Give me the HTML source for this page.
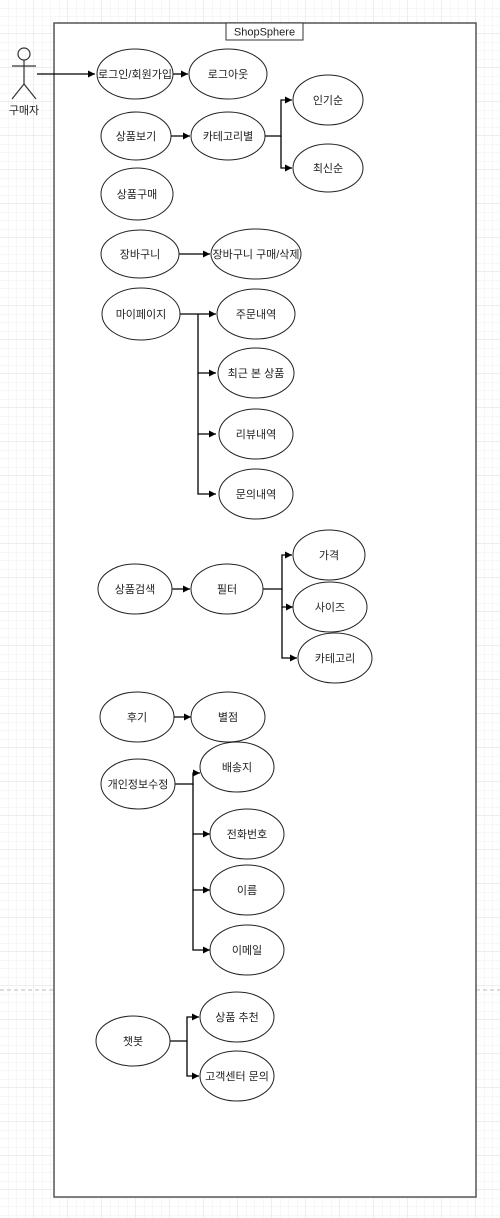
<!DOCTYPE html>
<html><head><meta charset="utf-8"><style>
html,body{margin:0;padding:0;width:500px;height:1218px;overflow:hidden;background:#fff;}
svg text{font-family:"Liberation Sans","Noto Sans CJK KR",sans-serif;font-size:11px;fill:#222;}
</style></head><body>
<svg width="500" height="1218" viewBox="0 0 500 1218" xmlns="http://www.w3.org/2000/svg">
<defs>
<pattern id="minor" width="8.5" height="8.5" patternUnits="userSpaceOnUse"><path d="M8.5 0V8.5H0" fill="none" stroke="#efefef" stroke-width="1"/></pattern>
<pattern id="major" width="34" height="34" patternUnits="userSpaceOnUse"><rect width="34" height="34" fill="url(#minor)"/><path d="M34 0V34H0" fill="none" stroke="#dedede" stroke-width="1"/></pattern>
<marker id="a" markerWidth="8" markerHeight="8" refX="7" refY="4" orient="auto" markerUnits="userSpaceOnUse"><path d="M0,0.5 L7,4 L0,7.5 Z" fill="#000"/></marker>
</defs>
<rect width="500" height="1218" fill="url(#major)"/>
<line x1="0" y1="990" x2="500" y2="990" stroke="#bbb" stroke-dasharray="4,3"/>
<rect x="54" y="23" width="422" height="1174" fill="#fff" stroke="#555" stroke-width="1.5"/>
<rect x="226" y="23" width="77" height="17" fill="#fff" stroke="#333"/>
<text x="264.5" y="35.5" text-anchor="middle">ShopSphere</text>
<!-- actor -->
<g stroke="#333" fill="none" stroke-width="1.2">
<circle cx="24" cy="54" r="6"/>
<line x1="24" y1="60" x2="24" y2="84"/>
<line x1="12" y1="66" x2="36" y2="66"/>
<line x1="24" y1="84" x2="12" y2="99"/>
<line x1="24" y1="84" x2="36" y2="99"/>
</g>
<text x="24" y="114" text-anchor="middle">구매자</text>
<g stroke="#000" fill="none" stroke-width="1.3">
<path d="M37 74H95" marker-end="url(#a)"/>
<path d="M173 74H188" marker-end="url(#a)"/>
<path d="M171 136H190" marker-end="url(#a)"/>
<path d="M264 136H281V100H292" marker-end="url(#a)"/>
<path d="M281 136V168H292" marker-end="url(#a)"/>
<path d="M179 254H210" marker-end="url(#a)"/>
<path d="M180 314H198V314H216" marker-end="url(#a)"/>
<path d="M198 314V373H216" marker-end="url(#a)"/>
<path d="M198 373V434H216" marker-end="url(#a)"/>
<path d="M198 434V494H216" marker-end="url(#a)"/>
<path d="M172 589H190" marker-end="url(#a)"/>
<path d="M263 589H282V555H292" marker-end="url(#a)"/>
<path d="M282 589V607H293" marker-end="url(#a)"/>
<path d="M282 607V658H297" marker-end="url(#a)"/>
<path d="M174 717H191" marker-end="url(#a)"/>
<path d="M175 784H193V773H200" marker-end="url(#a)"/>
<path d="M193 784V834H210" marker-end="url(#a)"/>
<path d="M193 834V890H210" marker-end="url(#a)"/>
<path d="M193 890V950H210" marker-end="url(#a)"/>
<path d="M170 1041H187V1017H199" marker-end="url(#a)"/>
<path d="M187 1041V1076H199" marker-end="url(#a)"/>
</g>
<g fill="#fff" stroke="#222" stroke-width="1">
<ellipse cx="135" cy="74" rx="38" ry="25"/>
<ellipse cx="228" cy="74" rx="39" ry="25"/>
<ellipse cx="328" cy="100" rx="35" ry="25"/>
<ellipse cx="136" cy="136" rx="35" ry="24"/>
<ellipse cx="228" cy="136" rx="37" ry="24"/>
<ellipse cx="328" cy="168" rx="35" ry="24"/>
<ellipse cx="137" cy="194" rx="36" ry="26"/>
<ellipse cx="140" cy="254" rx="39" ry="24"/>
<ellipse cx="256" cy="254" rx="45" ry="25"/>
<ellipse cx="141" cy="314" rx="39" ry="26"/>
<ellipse cx="256" cy="314" rx="39" ry="25"/>
<ellipse cx="256" cy="373" rx="38" ry="25"/>
<ellipse cx="256" cy="434" rx="37" ry="25"/>
<ellipse cx="256" cy="494" rx="37" ry="25"/>
<ellipse cx="135" cy="589" rx="37" ry="25"/>
<ellipse cx="227" cy="589" rx="36" ry="25"/>
<ellipse cx="329" cy="555" rx="36" ry="25"/>
<ellipse cx="330" cy="607" rx="37" ry="25"/>
<ellipse cx="335" cy="658" rx="37" ry="25"/>
<ellipse cx="137" cy="717" rx="37" ry="25"/>
<ellipse cx="228" cy="717" rx="37" ry="25"/>
<ellipse cx="138" cy="784" rx="37" ry="25"/>
<ellipse cx="237" cy="767" rx="37" ry="25"/>
<ellipse cx="247" cy="834" rx="37" ry="25"/>
<ellipse cx="247" cy="890" rx="37" ry="25"/>
<ellipse cx="247" cy="950" rx="37" ry="25"/>
<ellipse cx="133" cy="1041" rx="37" ry="25"/>
<ellipse cx="237" cy="1017" rx="37" ry="25"/>
<ellipse cx="237" cy="1076" rx="37" ry="25"/>
</g>
<g text-anchor="middle">
<text x="135" y="78">로그인/회원가입</text>
<text x="228" y="78">로그아웃</text>
<text x="328" y="104">인기순</text>
<text x="136" y="140">상품보기</text>
<text x="228" y="140">카테고리별</text>
<text x="328" y="172">최신순</text>
<text x="137" y="198">상품구매</text>
<text x="140" y="258">장바구니</text>
<text x="256" y="258">장바구니 구매/삭제</text>
<text x="141" y="318">마이페이지</text>
<text x="256" y="318">주문내역</text>
<text x="256" y="377">최근 본 상품</text>
<text x="256" y="438">리뷰내역</text>
<text x="256" y="498">문의내역</text>
<text x="135" y="593">상품검색</text>
<text x="227" y="593">필터</text>
<text x="329" y="559">가격</text>
<text x="330" y="611">사이즈</text>
<text x="335" y="662">카테고리</text>
<text x="137" y="721">후기</text>
<text x="228" y="721">별점</text>
<text x="138" y="788">개인정보수정</text>
<text x="237" y="771">배송지</text>
<text x="247" y="838">전화번호</text>
<text x="247" y="894">이름</text>
<text x="247" y="954">이메일</text>
<text x="133" y="1045">챗봇</text>
<text x="237" y="1021">상품 추천</text>
<text x="237" y="1080">고객센터 문의</text>
</g>
</svg>
</body></html>
